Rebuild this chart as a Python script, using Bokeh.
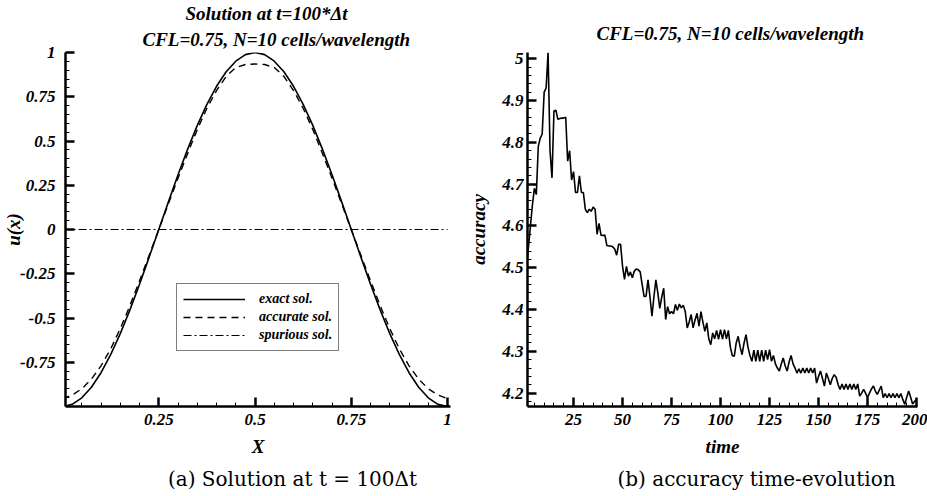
from bokeh.plotting import figure
from bokeh.layouts import row, column
from bokeh.models import FixedTicker, Legend, LegendItem, Range1d, Title
from bokeh.embed import file_html
from bokeh.resources import INLINE
from bokeh.core.properties import value

FONT = "Liberation Serif"
CAP_FONT = "DejaVu Serif"

# ---------------- data: (a) solution at t = 100*dt ----------------
x_grid = [0.0, 0.025, 0.05, 0.075, 0.1, 0.125, 0.15, 0.175, 0.2, 0.225,
          0.25, 0.275, 0.3, 0.325, 0.35, 0.375, 0.4, 0.425, 0.45, 0.475,
          0.5, 0.525, 0.55, 0.575, 0.6, 0.625, 0.65, 0.675, 0.7, 0.725,
          0.75, 0.775, 0.8, 0.825, 0.85, 0.875, 0.9, 0.925, 0.95, 0.975, 1.0]
exact_u = [-1.0, -0.988, -0.951, -0.891, -0.809, -0.707, -0.588, -0.454, -0.309, -0.156,
           0.0, 0.156, 0.309, 0.454, 0.588, 0.707, 0.809, 0.891, 0.951, 0.988,
           1.0, 0.988, 0.951, 0.891, 0.809, 0.707, 0.588, 0.454, 0.309, 0.156,
           0.0, -0.156, -0.309, -0.454, -0.588, -0.707, -0.809, -0.891, -0.951, -0.988, -1.0]
accurate_u = [-0.955, -0.935, -0.90, -0.845, -0.77, -0.675, -0.56, -0.43, -0.29, -0.145,
              0.0, 0.145, 0.29, 0.43, 0.565, 0.685, 0.785, 0.865, 0.915, 0.932,
              0.935, 0.932, 0.915, 0.865, 0.785, 0.685, 0.565, 0.43, 0.29, 0.145,
              0.0, -0.145, -0.29, -0.43, -0.56, -0.675, -0.77, -0.845, -0.90, -0.935, -0.955]
spurious_x = [0.0, 1.0]
spurious_u = [0.0, 0.0]

left_xticks = {0.25: "0.25", 0.5: "0.5", 0.75: "0.75", 1.0: "1"}
left_yticks = {-0.75: "-0.75", -0.5: "-0.5", -0.25: "-0.25", 0.0: "0",
               0.25: "0.25", 0.5: "0.5", 0.75: "0.75", 1.0: "1"}

# ---------------- data: (b) accuracy time-evolution ----------------
time_steps = list(range(1, 201))
accuracy = [
    4.50, 4.55, 4.60, 4.65, 4.69, 4.675, 4.79, 4.81, 4.82, 4.92,
    4.93, 5.015, 4.78, 4.715, 4.875, 4.877, 4.855, 4.857, 4.858, 4.858,
    4.86, 4.755, 4.78, 4.71, 4.73, 4.68, 4.68, 4.72, 4.68, 4.68,
    4.64, 4.632, 4.64, 4.635, 4.645, 4.64, 4.58, 4.606, 4.578, 4.577,
    4.578, 4.553, 4.552, 4.552, 4.55, 4.545, 4.53, 4.556, 4.556, 4.503,
    4.472, 4.503, 4.48, 4.49, 4.476, 4.492, 4.497, 4.495, 4.49, 4.46,
    4.431, 4.432, 4.471, 4.43, 4.384, 4.43, 4.471, 4.44, 4.403, 4.43,
    4.451, 4.376, 4.407, 4.39, 4.395, 4.39, 4.412, 4.398, 4.413, 4.404,
    4.41, 4.395, 4.356, 4.37, 4.388, 4.356, 4.375, 4.391, 4.36, 4.395,
    4.37, 4.348, 4.368, 4.33, 4.316, 4.344, 4.33, 4.35, 4.329, 4.352,
    4.329, 4.352, 4.33, 4.35, 4.31, 4.29, 4.288, 4.32, 4.336, 4.31,
    4.292, 4.32, 4.34, 4.31, 4.29, 4.276, 4.303, 4.276, 4.303, 4.276,
    4.303, 4.276, 4.303, 4.28, 4.304, 4.276, 4.29, 4.27, 4.26, 4.253,
    4.27, 4.284, 4.265, 4.253, 4.275, 4.29, 4.27, 4.26, 4.248, 4.258,
    4.248, 4.26, 4.248, 4.26, 4.248, 4.26, 4.248, 4.26, 4.224, 4.24,
    4.253, 4.235, 4.217, 4.248, 4.235, 4.22, 4.235, 4.244, 4.238, 4.22,
    4.209, 4.222, 4.209, 4.222, 4.209, 4.222, 4.209, 4.222, 4.209, 4.222,
    4.193, 4.2, 4.209, 4.2, 4.189, 4.2, 4.21, 4.217, 4.205, 4.197,
    4.207, 4.217, 4.189, 4.199, 4.189, 4.199, 4.189, 4.199, 4.189, 4.199,
    4.189, 4.199, 4.185, 4.173, 4.19, 4.205, 4.19, 4.174, 4.18, 4.185,
]
right_xticks = {25: "25", 50: "50", 75: "75", 100: "100", 125: "125",
                150: "150", 175: "175", 200: "200"}
right_yticks = {4.2: "4.2", 4.3: "4.3", 4.4: "4.4", 4.5: "4.5", 4.6: "4.6",
                4.7: "4.7", 4.8: "4.8", 4.9: "4.9", 5.0: "5"}

captions = ["(a) Solution at t = 100Δt", "(b) accuracy time-evolution"]


def style_axes(p, xt, yt, xminor, yminor, xlabel, ylabel, ylab_standoff, ystand):
    p.xaxis.ticker = FixedTicker(ticks=list(xt.keys()), minor_ticks=xminor)
    p.yaxis.ticker = FixedTicker(ticks=list(yt.keys()), minor_ticks=yminor)
    p.xaxis.major_label_overrides = xt
    p.yaxis.major_label_overrides = yt
    for ax in (p.xaxis[0], p.yaxis[0]):
        ax.axis_line_width = 2.5
        ax.axis_line_color = "black"
        ax.major_tick_in = 9
        ax.major_tick_out = 0
        ax.minor_tick_in = 4
        ax.minor_tick_out = 0
        ax.major_tick_line_width = 2.5
        ax.minor_tick_line_width = 1
        ax.major_tick_line_color = "black"
        ax.minor_tick_line_color = "black"
        ax.major_label_text_font = FONT
        ax.major_label_text_font_style = "bold italic"
        ax.major_label_text_font_size = "17px"
        ax.major_label_text_color = "black"
        ax.axis_label_text_font = FONT
        ax.axis_label_text_font_style = "bold italic"
        ax.axis_label_text_font_size = "19px"
        ax.axis_label_text_color = "black"
    p.xaxis.axis_label = xlabel
    p.yaxis.axis_label = ylabel
    p.xaxis.major_label_standoff = 7
    p.xaxis.axis_label_standoff = 8
    p.yaxis.major_label_standoff = ylab_standoff
    p.yaxis.axis_label_standoff = ystand
    p.grid.visible = False
    p.outline_line_color = None


def add_title(p, text, standoff, offset):
    p.add_layout(Title(text=text, align="left", standoff=standoff, offset=offset,
                       text_font=FONT, text_font_style="bold italic",
                       text_font_size="19px", text_color="black"), "above")


# ---------------- left figure ----------------
p1 = figure(width=463, height=466, output_backend="svg", toolbar_location=None,
            x_range=Range1d(0.0077, 1.0077), y_range=Range1d(-1.0, 1.0),
            min_border_left=62, min_border_right=13, min_border_top=51,
            min_border_bottom=60, background_fill_color="white",
            border_fill_color="white")
r_exact = p1.line(x_grid, exact_u, line_color="black", line_width=1.6)
r_acc = p1.line(x_grid, accurate_u, line_color="black", line_width=1.4,
                line_dash="7 5")
r_spur = p1.line(spurious_x, spurious_u, line_color="black", line_width=1.2,
                 line_dash="8 3 2 3")
style_axes(p1, left_xticks, left_yticks,
           [i * 0.05 for i in range(1, 21)], [-0.95 + i * 0.05 for i in range(40)],
           "X", "u(x)", 10, -7)
legend = Legend(items=[LegendItem(label="exact sol.", renderers=[r_exact]),
                       LegendItem(label="accurate sol.", renderers=[r_acc]),
                       LegendItem(label="spurious sol.", renderers=[r_spur])],
                location=(111, 55), orientation="vertical",
                border_line_color="black", border_line_width=1,
                background_fill_color="white", background_fill_alpha=1,
                glyph_width=62, glyph_height=18, label_height=18,
                label_standoff=14, padding=6, spacing=0, margin=0,
                label_text_font=FONT, label_text_font_style="bold italic",
                label_text_font_size="14px", label_text_color="black")
p1.add_layout(legend, "center")
add_title(p1, "CFL=0.75, N=10 cells/wavelength", 6, 77)
add_title(p1, "Solution at t=100*Δt", 0, 120)

# ---------------- right figure ----------------
p2 = figure(width=464, height=466, output_backend="svg", toolbar_location=None,
            x_range=Range1d(1.5, 200.5), y_range=Range1d(4.168, 5.015),
            min_border_left=64, min_border_right=10, min_border_top=51,
            min_border_bottom=60, background_fill_color="white",
            border_fill_color="white")
p2.line(time_steps, accuracy, line_color="black", line_width=1.6)
style_axes(p2, right_xticks, right_yticks,
           [5 * i for i in range(1, 41)], [4.18 + 0.02 * i for i in range(42)],
           "time", "accuracy", 4, 10)
add_title(p2, "CFL=0.75, N=10 cells/wavelength", 18, 69)

# ---------------- captions ----------------
pc = figure(width=927, height=30, output_backend="svg", toolbar_location=None,
            x_range=Range1d(0, 927), y_range=Range1d(0, 30),
            min_border=0, min_border_left=0, min_border_right=0,
            min_border_top=0, min_border_bottom=0,
            background_fill_color="white", border_fill_color="white")
pc.axis.visible = False
pc.grid.visible = False
pc.outline_line_color = None
pc.text(x=[292, 756], y=[18, 18], text=captions, text_align="center",
        text_baseline="middle", text_font=value(CAP_FONT),
        text_font_size="20px", text_color="black")

layout = column(row(p1, p2), pc)
open("out.html", "w").write(file_html(layout, INLINE))
